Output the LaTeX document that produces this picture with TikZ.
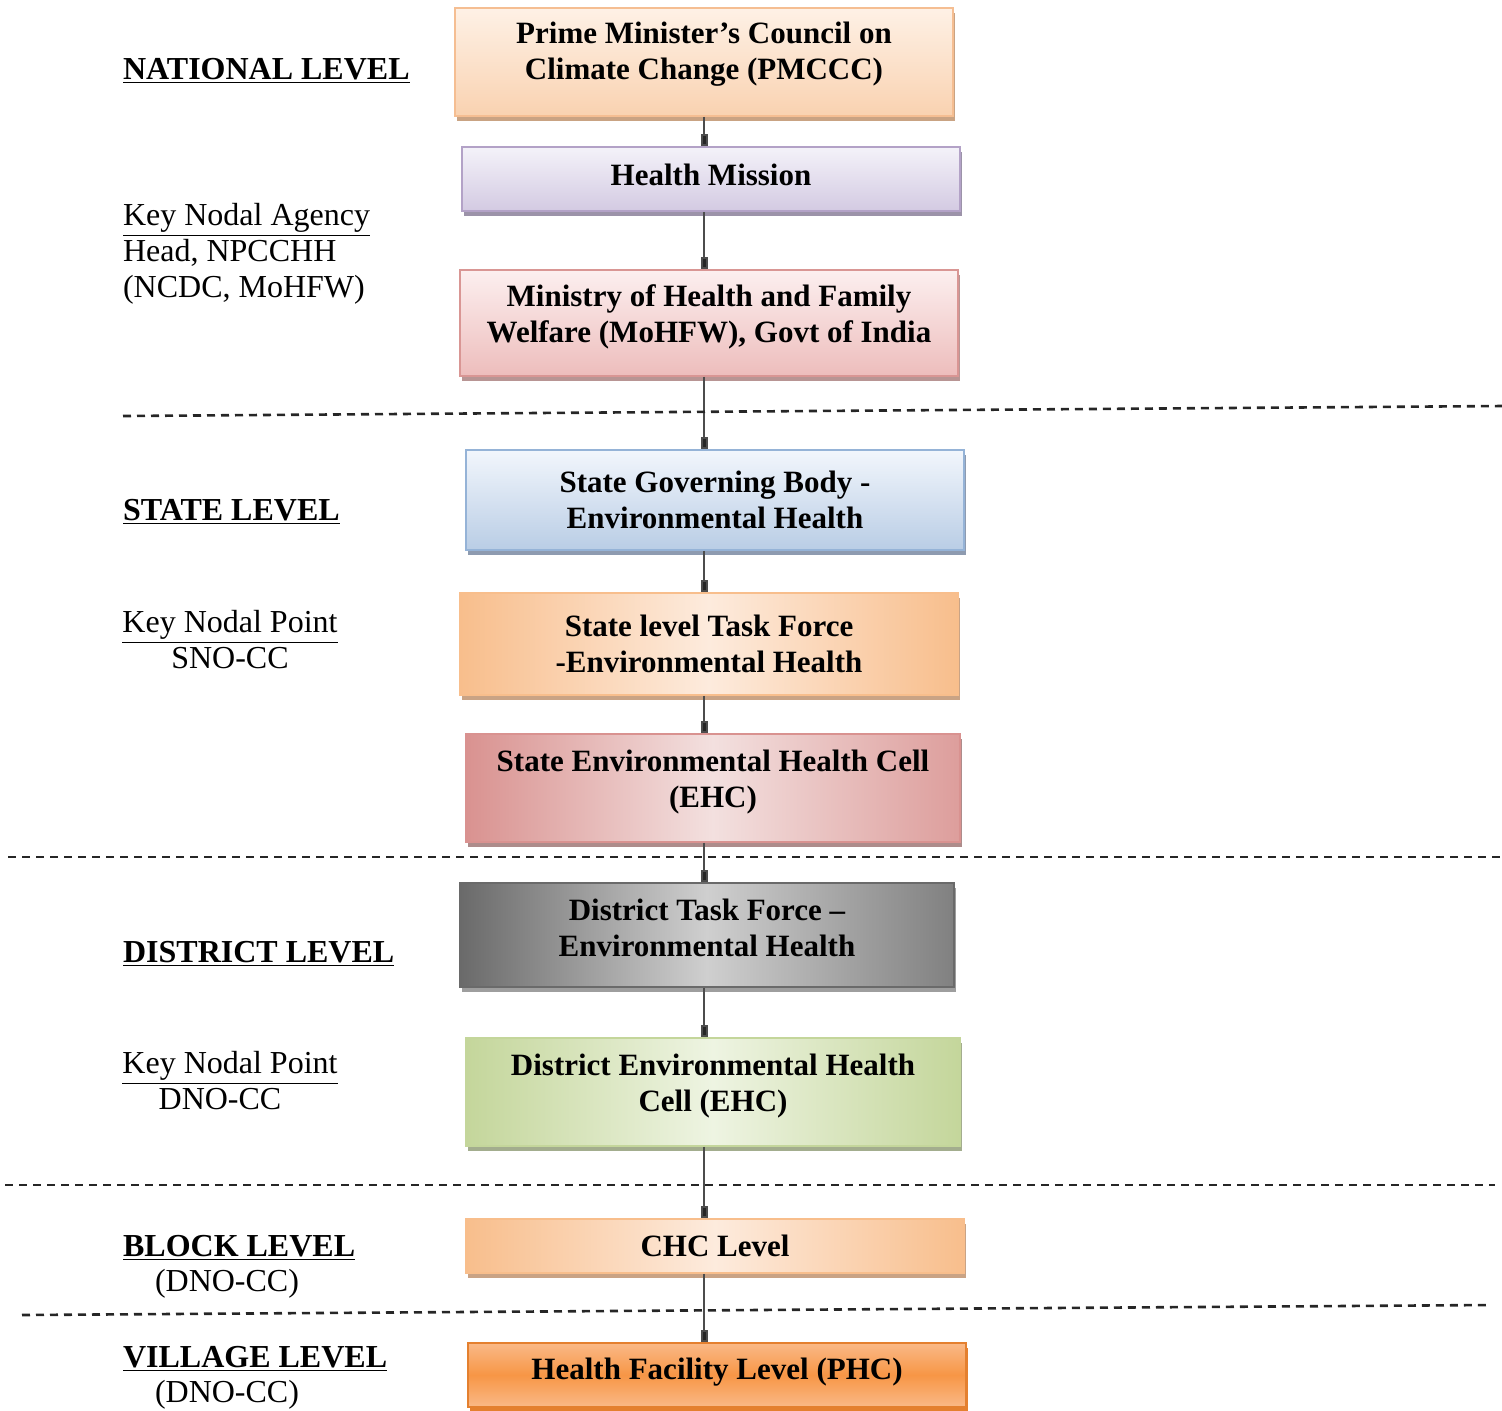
\documentclass[tikz,border=0pt]{standalone}
\usepackage{fontspec}
\setmainfont{Liberation Serif}
\usetikzlibrary{shadows,arrows.meta}

\definecolor{pmline}{HTML}{F5BE92}
\definecolor{pmtop}{HTML}{FEF1E6}
\definecolor{pmbot}{HTML}{F9D2B0}
\definecolor{pmshad}{HTML}{C9A383}
\definecolor{hmline}{HTML}{B3A2C7}
\definecolor{hmtop}{HTML}{F4F2F9}
\definecolor{hmbot}{HTML}{D3CAE2}
\definecolor{hmshad}{HTML}{9C93A9}
\definecolor{moline}{HTML}{D99694}
\definecolor{motop}{HTML}{FCEFEF}
\definecolor{mobot}{HTML}{EDBDBC}
\definecolor{moshad}{HTML}{B89594}
\definecolor{sgline}{HTML}{95B3D7}
\definecolor{sgtop}{HTML}{F2F6FC}
\definecolor{sgbot}{HTML}{B9CDE5}
\definecolor{sgshad}{HTML}{8E9BB0}
\definecolor{orin}{HTML}{FDEBDD}
\definecolor{orout}{HTML}{F8BE8C}
\definecolor{orshad}{HTML}{C9A385}
\definecolor{rdin}{HTML}{F3E0DF}
\definecolor{rdout}{HTML}{D99290}
\definecolor{rdshad}{HTML}{AD8C8B}
\definecolor{gyin}{HTML}{CFCFCF}
\definecolor{gyout}{HTML}{6A6A6A}
\definecolor{gyshad}{HTML}{9E9E9E}
\definecolor{grin}{HTML}{EEF4E2}
\definecolor{grout}{HTML}{C4D69B}
\definecolor{grshad}{HTML}{A3AD8E}
\definecolor{phmid}{HTML}{F79646}
\definecolor{phedge}{HTML}{FAB987}
\definecolor{phline}{HTML}{E4802F}

\begin{document}
\begin{tikzpicture}[x=0.5pt, y=-0.5pt,
    box/.style={draw, line width=0.8pt, align=center, inner sep=0pt,
        minimum width=249pt,
        font=\fontsize{15.5}{18}\selectfont\bfseries},
    shad/.style={drop shadow={shadow xshift=1pt, shadow yshift=-2.5pt,
        opacity=1, fill=#1}},
    lvl/.style={anchor=west, font=\fontsize{16}{18}\selectfont\bfseries},
    note/.style={font=\fontsize{16}{18}\selectfont},
    link/.style={draw=black!70, line width=1pt,
        -{Rectangle[length=6pt,width=3.5pt,fill=black!85]}},
    sep/.style={draw=black!85, line width=1.3pt, dash pattern=on 4pt off 3pt}]

    \useasboundingbox (0,0) rectangle (1502,1410);
    \coordinate (spine) at (704,0);

    % National level boxes
    \node[box, minimum height=54pt, text depth=11.5pt, top color=pmtop,
        bottom color=pmbot, draw=pmline, shad=pmshad] (pm) at (704,62)
        {Prime Minister's Council on\\Climate Change (PMCCC)};
    \node[box, minimum height=32pt, text depth=4.5pt, top color=hmtop,
        bottom color=hmbot, draw=hmline, shad=hmshad] (hm) at (711,179)
        {Health Mission};
    \node[box, minimum height=53pt, text depth=9.5pt, top color=motop,
        bottom color=mobot, draw=moline, shad=moshad] (mo) at (709,323)
        {Ministry of Health and Family\\Welfare (MoHFW), Govt of India};

    % State level boxes
    \node[box, minimum height=50pt, top color=sgtop, bottom color=sgbot,
        draw=sgline, shad=sgshad] (sg) at (715,500)
        {State Governing Body -\\Environmental Health};
    \node[box, minimum height=51pt, left color=orout, right color=orout,
        middle color=orin, draw=orout, shad=orshad] (stf) at (709,644)
        {State level Task Force\\-Environmental Health};
    \node[box, minimum width=247pt, minimum height=54pt, text depth=9.5pt,
        left color=rdout, right color=rdout!85!rdin, middle color=rdin,
        draw=rdout, shad=rdshad] (seh) at (713,788)
        {State Environmental Health Cell\\(EHC)};

    % District level boxes
    \node[box, minimum width=247pt, minimum height=52pt, text depth=7.5pt,
        left color=gyout, right color=gyout!85!white, middle color=gyin,
        draw=gyout, shad=gyshad] (dtf) at (707,935)
        {District Task Force --\\Environmental Health};
    \node[box, minimum width=247pt, minimum height=54pt, text depth=9.5pt,
        left color=grout, right color=grout, middle color=grin,
        draw=grout, shad=grshad] (deh) at (713,1092)
        {District Environmental Health\\Cell (EHC)};

    % Block and village level boxes
    \node[box, minimum height=27pt, left color=orout, right color=orout,
        middle color=orin, draw=orout, shad=orshad] (chc) at (715,1246)
        {CHC Level};
    \node[box, minimum height=32pt, text depth=6pt, top color=phedge,
        bottom color=phedge, middle color=phmid, draw=phline,
        shad=phline] (phc) at (717,1375)
        {Health Facility Level (PHC)};

    % Links between boxes
    \draw[link] (pm.south -| spine) -- (hm.north -| spine);
    \draw[link] (hm.south -| spine) -- (mo.north -| spine);
    \draw[link] (mo.south -| spine) -- (sg.north -| spine);
    \draw[link] (sg.south -| spine) -- (stf.north -| spine);
    \draw[link] (stf.south -| spine) -- (seh.north -| spine);
    \draw[link] (seh.south -| spine) -- (dtf.north -| spine);
    \draw[link] (dtf.south -| spine) -- (deh.north -| spine);
    \draw[link] (deh.south -| spine) -- (chc.north -| spine);
    \draw[link] (chc.south -| spine) -- (phc.north -| spine);

    % Level separators
    \draw[sep] (123,416) -- (1502,406);
    \draw[sep] (8,857) -- (1502,857);
    \draw[sep] (5,1185) -- (1495,1185);
    \draw[sep] (22,1315) -- (1490,1305);

    % Level labels
    \node[lvl] (nat) at (116,71) {\underline{NATIONAL LEVEL}};
    \node[note, anchor=west, align=left] (nat2) at (116,254)
        {\underline{Key Nodal Agency}\\Head, NPCCHH\\(NCDC, MoHFW)};
    \node[lvl] (st) at (116,512) {\underline{STATE LEVEL}};
    \node[note, align=center] (st2) at (230,640)
        {\underline{Key Nodal Point}\\SNO-CC};
    \node[lvl] (dis) at (116,954) {\underline{DISTRICT LEVEL}};
    \node[note, align=center] (dis2) at (230,1081)
        {\underline{Key Nodal Point}\\\hspace*{-10pt}DNO-CC};
    \node[lvl] (blk) at (116,1248) {\underline{BLOCK LEVEL}};
    \node[note] (blk2) at (227,1284) {(DNO-CC)};
    \node[lvl] (vil) at (116,1359) {\underline{VILLAGE LEVEL}};
    \node[note] (vil2) at (227,1395) {(DNO-CC)};

\end{tikzpicture}
\end{document}
